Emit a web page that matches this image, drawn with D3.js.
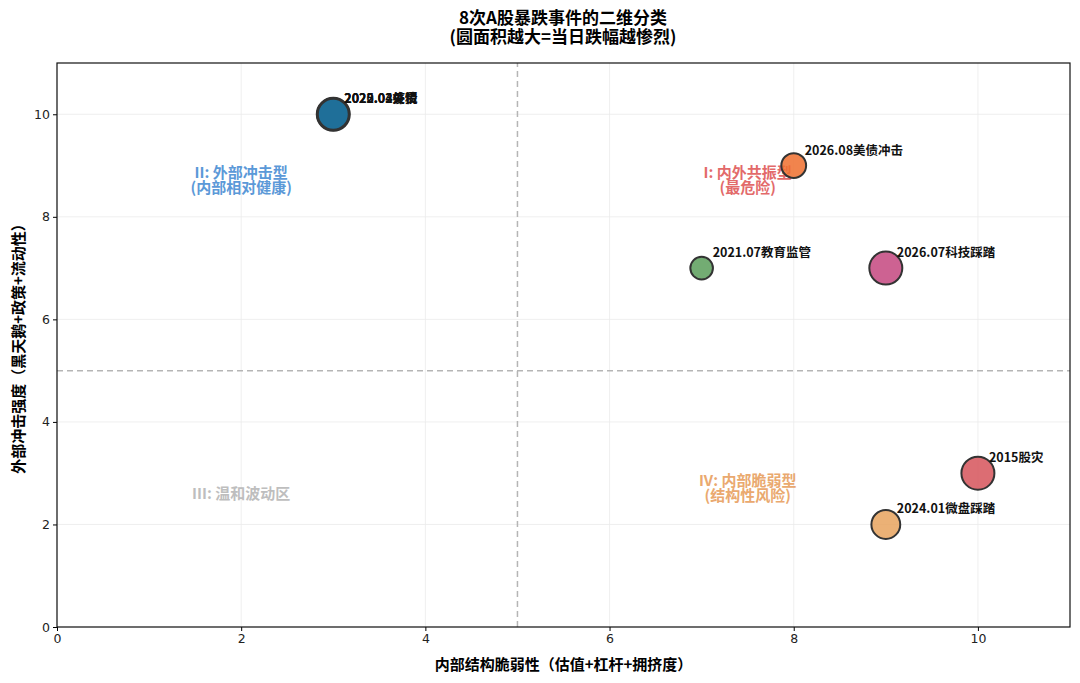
<!DOCTYPE html>
<html>
<head>
<meta charset="utf-8">
<script src="https://cdn.jsdelivr.net/npm/d3@7"></script>
<style>
  body { margin: 0; background: #fff; }
  svg { font-family: "Noto Sans CJK SC", "Noto Sans", sans-serif; }
</style>
</head>
<body>
<div id="chart-container"></div>
<script>
// event data
const events = ["2020.02疫情", "2025.04关税", "2022.03外资", "2026.08美债冲击", "2021.07教育监管", "2026.07科技踩踏", "2015股灾", "2024.01微盘踩踏"];
const fragility = [3, 3, 3, 8, 7, 9, 10, 9];
const shock = [10, 10, 10, 9, 7, 7, 3, 2];
const drops = [8.5, 8.0, 7.5, 4.8, 4.0, 8.5, 8.5, 6.5];
const colors = ["#1f6f99", "#1f6f99", "#1f6f99", "#ef6f2e", "#5a9e5a", "#c4467f", "#d6545a", "#e8a35e"];
const ticks = [0, 2, 4, 6, 8, 10];

// quadrant notes
const quadLines = [["II: 外部冲击型", "(内部相对健康)"], ["I: 内外共振型", "(最危险)"], ["III: 温和波动区"], ["IV: 内部脆弱型", "(结构性风险)"]];
const quadX = [2, 7.5, 2, 7.5];
const quadY = [8.7, 8.7, 2.6, 2.7];
const quadColors = ["#4a8ed4", "#e05a5a", "#b8b8b8", "#e8a060"];

function init() {
    const width = 1080, height = 683;
    const margin = { top: 63, right: 10, bottom: 56, left: 57 };

    const svg = d3.select("#chart-container")
        .append("svg")
        .attr("width", width)
        .attr("height", height);

    const x = d3.scaleLinear().domain([0, 11]).range([margin.left, width - margin.right]);
    const y = d3.scaleLinear().domain([0, 11]).range([height - margin.bottom, margin.top]);
    const r = d3.scaleSqrt().domain([0, 8.5]).range([0, 16.5]);

    // grid
    svg.append("g").selectAll("line.gx").data(ticks).enter().append("line")
        .attr("x1", d => x(d)).attr("x2", d => x(d))
        .attr("y1", y(0)).attr("y2", y(11))
        .attr("stroke", "#ebebeb").attr("stroke-width", 0.8);
    svg.append("g").selectAll("line.gy").data(ticks).enter().append("line")
        .attr("y1", d => y(d)).attr("y2", d => y(d))
        .attr("x1", x(0)).attr("x2", x(11))
        .attr("stroke", "#ebebeb").attr("stroke-width", 0.8);

    // dividing lines
    svg.append("line")
        .attr("x1", x(5)).attr("x2", x(5)).attr("y1", y(0)).attr("y2", y(11))
        .attr("stroke", "#b5b5b5").attr("stroke-width", 1.5).attr("stroke-dasharray", "6,4");
    svg.append("line")
        .attr("y1", y(5)).attr("y2", y(5)).attr("x1", x(0)).attr("x2", x(11))
        .attr("stroke", "#b5b5b5").attr("stroke-width", 1.5).attr("stroke-dasharray", "6,4");

    // quadrant labels
    quadLines.forEach((lines, i) => {
        const t = svg.append("text")
            .attr("x", x(quadX[i]))
            .attr("y", y(quadY[i]))
            .attr("text-anchor", "middle")
            .attr("font-size", 15)
            .attr("font-weight", "bold")
            .attr("fill", quadColors[i])
            .attr("opacity", 0.9);
        lines.forEach((l, j) => {
            t.append("tspan").attr("x", x(quadX[i])).attr("dy", j === 0 ? "0.35em" : "1.0em").text(l);
        });
        if (lines.length === 2) t.attr("transform", "translate(0,-8)");
    });

    // bubbles
    const idx = d3.range(events.length);
    svg.append("g").selectAll("circle").data(idx).enter().append("circle")
        .attr("cx", i => x(fragility[i]))
        .attr("cy", i => y(shock[i]))
        .attr("r", i => r(drops[i]))
        .attr("fill", i => colors[i])
        .attr("fill-opacity", 0.85)
        .attr("stroke", "#333")
        .attr("stroke-width", 2);

    // event labels
    svg.append("g").selectAll("text").data(idx).enter().append("text")
        .attr("x", i => x(fragility[i]) + 11)
        .attr("y", i => y(shock[i]) - 11)
        .attr("font-size", 12.5)
        .attr("font-weight", "bold")
        .attr("fill", "#111")
        .text(i => events[i]);

    // axes
    svg.append("g")
        .attr("transform", `translate(0,${y(0)})`)
        .call(d3.axisBottom(x).tickValues(ticks).tickSize(4).tickSizeOuter(0))
        .call(g => g.selectAll("text").attr("font-size", 12.5).attr("fill", "#222").attr("font-family", "DejaVu Sans"))
        .call(g => g.select(".domain").remove());
    svg.append("g")
        .attr("transform", `translate(${x(0)},0)`)
        .call(d3.axisLeft(y).tickValues(ticks).tickSize(4).tickSizeOuter(0))
        .call(g => g.selectAll("text").attr("font-size", 12.5).attr("fill", "#222").attr("font-family", "DejaVu Sans"))
        .call(g => g.select(".domain").remove());

    // frame
    svg.append("rect")
        .attr("x", x(0)).attr("y", y(11))
        .attr("width", x(11) - x(0)).attr("height", y(0) - y(11))
        .attr("fill", "none").attr("stroke", "#111").attr("stroke-width", 1.2);

    // axis titles
    svg.append("text")
        .attr("x", (x(0) + x(11)) / 2).attr("y", 670)
        .attr("text-anchor", "middle")
        .attr("font-size", 15).attr("font-weight", "bold")
        .text("内部结构脆弱性（估值+杠杆+拥挤度）");
    svg.append("text")
        .attr("transform", `translate(24,${(y(0) + y(11)) / 2}) rotate(-90)`)
        .attr("text-anchor", "middle")
        .attr("font-size", 15).attr("font-weight", "bold")
        .text("外部冲击强度（黑天鹅+政策+流动性）");

    // title
    svg.append("text")
        .attr("x", width / 2 + 23).attr("y", 24)
        .attr("text-anchor", "middle")
        .attr("font-size", 17).attr("font-weight", "bold")
        .text("8次A股暴跌事件的二维分类");
    svg.append("text")
        .attr("x", width / 2 + 23).attr("y", 43)
        .attr("text-anchor", "middle")
        .attr("font-size", 17).attr("font-weight", "bold")
        .text("(圆面积越大=当日跌幅越惨烈)");
}

window.onload = init;
</script>
</body>
</html>
